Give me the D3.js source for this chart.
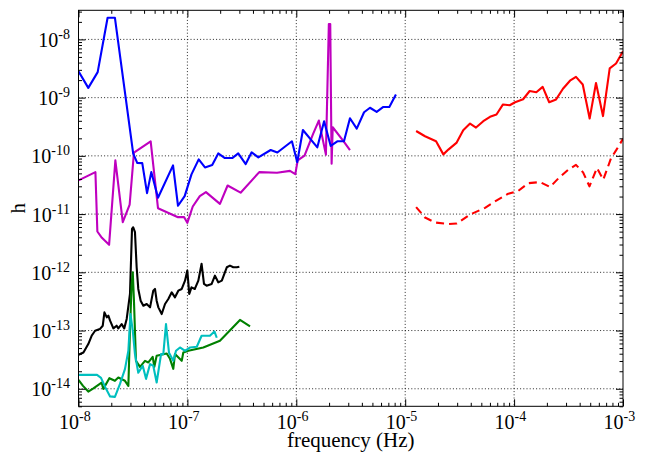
<!DOCTYPE html>
<html>
<head>
<meta charset="utf-8">
<script src="https://cdn.jsdelivr.net/npm/d3@7"></script>
<style>
  body { margin: 0; background: #fff; }
  svg { display: block; font-family: "Liberation Serif", "Times New Roman", serif; }
</style>
</head>
<body>
<svg id="chart" width="645" height="454"></svg>
<script>
// axis ranges and decade ticks
const xDomain = [1e-8, 1e-3];
const yDomain = [5e-15, 3.16e-8];
const xMajor = [1e-8, 1e-7, 1e-6, 1e-5, 1e-4, 1e-3];
const yMajor = [1e-14, 1e-13, 1e-12, 1e-11, 1e-10, 1e-9, 1e-8];

// blue
const blueF = [1.0e-8, 1.23e-8, 1.50e-8, 1.85e-8, 2.16e-8, 3.18e-8, 3.47e-8, 3.85e-8, 4.26e-8, 4.66e-8, 5.37e-8, 7.38e-8, 8.20e-8, 9.44e-8, 1.09e-7, 1.27e-7, 1.45e-7, 1.69e-7, 1.92e-7, 2.21e-7, 2.58e-7, 2.93e-7, 3.43e-7, 3.89e-7, 4.48e-7, 5.82e-7, 6.70e-7, 9.12e-7, 1.02e-6, 1.15e-6, 1.56e-6, 1.80e-6, 2.07e-6, 2.38e-6, 2.74e-6, 3.11e-6, 3.59e-6, 4.19e-6, 4.75e-6, 5.47e-6, 6.30e-6, 7.15e-6, 8.22e-6];
const blueH = [2.84e-9, 1.47e-9, 2.74e-9, 2.35e-8, 2.35e-8, 1.09e-10, 7.52e-11, 7.5e-11, 2.29e-11, 5.26e-11, 1.91e-11, 6.86e-11, 1.39e-11, 2.03e-11, 4.81e-11, 8.71e-11, 6.34e-11, 6.95e-11, 1.10e-10, 9.17e-11, 9.17e-11, 1.10e-10, 7.23e-11, 1.15e-10, 9.42e-11, 1.26e-10, 1.14e-10, 1.78e-10, 7.8e-11, 2.78e-10, 1.40e-10, 3.93e-10, 1.48e-10, 1.78e-10, 1.78e-10, 4.42e-10, 2.94e-10, 5.61e-10, 6.70e-10, 5.68e-10, 6.92e-10, 6.92e-10, 1.13e-9];

// magenta
const magentaF = [1.0e-8, 1.43e-8, 1.49e-8, 1.64e-8, 1.91e-8, 2.18e-8, 2.55e-8, 2.95e-8, 3.23e-8, 4.60e-8, 5.37e-8, 8.20e-8, 9.31e-8, 9.98e-8, 1.12e-7, 1.30e-7, 1.48e-7, 1.99e-7, 2.34e-7, 3.08e-7, 4.57e-7, 6.65e-7, 8.75e-7, 9.79e-7, 1.03e-6, 1.19e-6, 1.43e-6, 1.61e-6, 1.87e-6, 1.99e-6, 2.05e-6, 2.11e-6, 2.16e-6, 2.70e-6, 3.11e-6];
const magentaH = [3.79e-11, 5.26e-11, 5.02e-12, 3.91e-12, 2.96e-12, 8.37e-11, 7.26e-12, 1.46e-11, 1.14e-10, 1.78e-10, 1.26e-11, 8.85e-12, 8.9e-12, 7.08e-12, 1.35e-11, 2.03e-11, 2.38e-11, 1.50e-11, 3.10e-11, 2.33e-11, 5.26e-11, 5.14e-11, 5.52e-11, 4.86e-11, 8.37e-11, 1.01e-10, 2.41e-10, 4.04e-10, 1.05e-10, 1.83e-8, 1.83e-8, 7.34e-11, 3.10e-10, 1.81e-10, 1.26e-10];

// black
const blackF = [1.0e-8, 1.11e-8, 1.23e-8, 1.32e-8, 1.42e-8, 1.57e-8, 1.67e-8, 1.73e-8, 1.82e-8, 1.88e-8, 1.95e-8, 2.09e-8, 2.24e-8, 2.32e-8, 2.49e-8, 2.63e-8, 2.77e-8, 2.97e-8, 3.10e-8, 3.18e-8, 3.30e-8, 3.42e-8, 3.54e-8, 3.72e-8, 3.94e-8, 4.23e-8, 4.54e-8, 4.86e-8, 5.04e-8, 5.22e-8, 5.41e-8, 5.81e-8, 6.23e-8, 6.68e-8, 7.18e-8, 7.69e-8, 8.25e-8, 8.87e-8, 9.51e-8, 9.98e-8, 1.04e-7, 1.09e-7, 1.17e-7, 1.26e-7, 1.35e-7, 1.42e-7, 1.50e-7, 1.67e-7, 1.79e-7, 1.92e-7, 2.07e-7, 2.21e-7, 2.30e-7, 2.46e-7, 2.64e-7, 2.84e-7, 3.00e-7];
const blackH = [3.83e-14, 4.20e-14, 5.86e-14, 8.13e-14, 9.93e-14, 1.06e-13, 1.21e-13, 2.05e-13, 1.68e-13, 1.80e-13, 1.48e-13, 1.09e-13, 1.21e-13, 1.09e-13, 1.29e-13, 1.09e-13, 1.58e-13, 4.25e-13, 5.58e-12, 5.94e-12, 4.89e-12, 1.22e-12, 5.18e-13, 3.26e-13, 2.67e-13, 2.86e-13, 2.50e-13, 4.84e-13, 5.18e-13, 3.26e-13, 2.50e-13, 1.92e-13, 2.86e-13, 3.48e-13, 4.53e-13, 3.72e-13, 4.84e-13, 5.18e-13, 7.19e-13, 1.07e-12, 4.25e-13, 5.52e-13, 5.18e-13, 7.19e-13, 1.40e-12, 6.31e-13, 5.90e-13, 6.31e-13, 8.77e-13, 6.73e-13, 7.19e-13, 1.00e-12, 1.22e-12, 1.30e-12, 1.22e-12, 1.22e-12, 1.25e-12];

// green
const greenF = [1.0e-8, 1.10e-8, 1.23e-8, 1.37e-8, 1.63e-8, 1.69e-8, 1.92e-8, 2.16e-8, 2.32e-8, 2.67e-8, 2.87e-8, 2.97e-8, 3.07e-8, 3.15e-8, 3.23e-8, 3.37e-8, 3.67e-8, 4.08e-8, 4.38e-8, 4.80e-8, 4.97e-8, 5.22e-8, 6.46e-8, 6.92e-8, 7.42e-8, 7.69e-8, 8.87e-8, 9.17e-8, 1.02e-7, 1.40e-7, 1.99e-7, 3.04e-7, 3.76e-7];
const greenH = [1.42e-14, 1.12e-14, 8.95e-15, 1.02e-14, 1.28e-14, 9.96e-15, 1.52e-14, 1.37e-14, 1.56e-14, 1.37e-14, 1.12e-14, 9.93e-14, 5.90e-13, 1.00e-12, 3.26e-13, 3.02e-14, 2.38e-14, 3.02e-14, 2.83e-14, 3.54e-14, 2.38e-14, 3.68e-14, 4.04e-14, 3.27e-14, 2.20e-14, 3.94e-14, 3.02e-14, 4.20e-14, 4.49e-14, 5.12e-14, 6.67e-14, 1.52e-13, 1.18e-13];

// cyan
const cyanF = [1.0e-8, 1.48e-8, 1.61e-8, 1.79e-8, 1.95e-8, 2.16e-8, 2.40e-8, 2.67e-8, 2.87e-8, 3.00e-8, 3.15e-8, 3.30e-8, 3.54e-8, 3.89e-8, 4.17e-8, 4.54e-8, 4.86e-8, 5.22e-8, 5.73e-8, 6.01e-8, 6.36e-8, 6.78e-8, 7.42e-8, 7.86e-8, 8.55e-8, 9.51e-8, 1.06e-7, 1.22e-7, 1.35e-7, 1.61e-7, 1.77e-7, 1.86e-7];
const cyanH = [1.73e-14, 1.73e-14, 1.54e-14, 9.96e-15, 7.40e-15, 7.26e-15, 1.20e-14, 2.17e-14, 4.49e-14, 1.92e-13, 9.93e-14, 3.94e-14, 1.88e-14, 2.48e-14, 1.48e-14, 2.65e-14, 2.48e-14, 1.28e-14, 3.94e-14, 3.94e-14, 1.29e-13, 4.15e-14, 3.02e-14, 4.49e-14, 5.12e-14, 4.49e-14, 5.12e-14, 5.26e-14, 8.13e-14, 8.13e-14, 9.66e-14, 7.52e-14];

// red, solid
const redF = [1.26e-5, 1.52e-5, 1.92e-5, 2.24e-5, 2.49e-5, 2.97e-5, 3.41e-5, 3.94e-5, 4.47e-5, 5.21e-5, 6.01e-5, 6.89e-5, 7.91e-5, 9.12e-5, 1.02e-4, 1.21e-4, 1.39e-4, 1.60e-4, 1.83e-4, 2.10e-4, 2.43e-4, 2.81e-4, 3.26e-4, 3.70e-4, 4.27e-4, 4.94e-4, 5.65e-4, 6.55e-4, 7.55e-4, 8.63e-4, 1.0e-3];
const redH = [2.67e-10, 2.17e-10, 1.78e-10, 1.06e-10, 1.28e-10, 1.69e-10, 2.75e-10, 3.58e-10, 3.06e-10, 3.93e-10, 4.69e-10, 5.12e-10, 7.64e-10, 7.40e-10, 8.34e-10, 9.38e-10, 1.30e-9, 1.24e-9, 1.53e-9, 8.34e-10, 9.31e-10, 1.42e-9, 1.95e-9, 2.27e-9, 1.68e-9, 4.37e-10, 1.78e-9, 4.82e-10, 3.17e-9, 3.86e-9, 6.24e-9];

// red, dashed
const redDashF = [1.26e-5, 1.52e-5, 1.88e-5, 2.47e-5, 2.97e-5, 3.94e-5, 5.41e-5, 6.68e-5, 8.85e-5, 1.09e-4, 1.35e-4, 1.73e-4, 2.14e-4, 2.55e-4, 3.13e-4, 3.70e-4, 4.30e-4, 4.92e-4, 5.77e-4, 6.59e-4, 7.76e-4, 8.63e-4, 1.0e-3];
const redDashH = [1.32e-11, 8.73e-12, 7.16e-12, 6.76e-12, 6.89e-12, 9.84e-12, 1.28e-11, 1.65e-11, 2.24e-11, 2.50e-11, 3.40e-11, 3.54e-11, 2.92e-11, 4.10e-11, 5.74e-11, 7.00e-11, 5.20e-11, 2.99e-11, 6.21e-11, 3.89e-11, 9.06e-11, 1.24e-10, 1.96e-10];

const series = [
  {f: magentaF, h: magentaH, color: "#bf00bf"},
  {f: blueF, h: blueH, color: "#0000ff"},
  {f: blackF, h: blackH, color: "#000000"},
  {f: greenF, h: greenH, color: "#008000"},
  {f: cyanF, h: cyanH, color: "#00bfbf"},
  {f: redF, h: redH, color: "#ff0000"},
  {f: redDashF, h: redDashH, color: "#ff0000", dash: "8,5"}
];

const margin = {top: 10.3, right: 22, bottom: 47.7, left: 78.5};
const svg = d3.select("#chart"),
    width = +svg.attr("width") - margin.left - margin.right,
    height = +svg.attr("height") - margin.top - margin.bottom;

const x = d3.scaleLog().domain(xDomain).range([0, width]);
const y = d3.scaleLog().domain(yDomain).range([height, 0]);

// 2..9 times each power of ten inside the domain
function minorTicks(domain) {
  let out = [];
  for (let e = Math.floor(Math.log10(domain[0])); e <= Math.ceil(Math.log10(domain[1])); e++) {
    for (let m = 2; m <= 9; m++) {
      let v = m * Math.pow(10, e);
      if (v >= domain[0] * 0.999 && v <= domain[1] * 1.001) out.push(v);
    }
  }
  return out;
}

const g = svg.append("g").attr("transform", "translate(" + margin.left + "," + margin.top + ")");

svg.append("defs").append("clipPath").attr("id", "plotclip")
  .append("rect").attr("width", width).attr("height", height);

// dotted grid
const grid = g.append("g").attr("class", "grid")
    .attr("stroke", "#111").attr("stroke-width", 0.9).attr("stroke-dasharray", "1,2.2");
grid.selectAll(".gx").data(xMajor.slice(1, -1)).enter().append("line")
    .attr("x1", d => x(d)).attr("x2", d => x(d)).attr("y1", 0).attr("y2", height);
grid.selectAll(".gy").data(yMajor).enter().append("line")
    .attr("x1", 0).attr("x2", width).attr("y1", d => y(d)).attr("y2", d => y(d));

// curves
const line = d3.line().x(d => x(d[0])).y(d => y(d[1]));
const plot = g.append("g").attr("clip-path", "url(#plotclip)");
series.forEach(s => {
  plot.append("path")
    .datum(s.f.map((f, i) => [f, s.h[i]]))
    .attr("fill", "none")
    .attr("stroke", s.color)
    .attr("stroke-width", 2.1)
    .attr("stroke-linejoin", "round")
    .attr("stroke-dasharray", s.dash || null)
    .attr("d", line);
});

// inward ticks on all four sides
function tickAxis(axisFn, scale, values, size, transform) {
  g.append("g").attr("transform", transform)
    .call(axisFn(scale).tickValues(values).tickSize(-size).tickSizeOuter(0).tickFormat(""))
    .call(a => a.select(".domain").remove())
    .call(a => a.selectAll("line").attr("stroke", "#000").attr("stroke-width", 1));
}
const xMinor = minorTicks(xDomain), yMinor = minorTicks(yDomain);
tickAxis(d3.axisBottom, x, xMajor, 7, "translate(0," + height + ")");
tickAxis(d3.axisBottom, x, xMinor, 3.5, "translate(0," + height + ")");
tickAxis(d3.axisTop, x, xMajor, 7, "translate(0,0)");
tickAxis(d3.axisTop, x, xMinor, 3.5, "translate(0,0)");
tickAxis(d3.axisLeft, y, yMajor, 7, "translate(0,0)");
tickAxis(d3.axisLeft, y, yMinor, 3.5, "translate(0,0)");
tickAxis(d3.axisRight, y, yMajor, 7, "translate(" + width + ",0)");
tickAxis(d3.axisRight, y, yMinor, 3.5, "translate(" + width + ",0)");

// frame
g.append("rect").attr("width", width).attr("height", height)
  .attr("fill", "none").attr("stroke", "#000").attr("stroke-width", 1);

// tick labels as 10 with a superscript exponent
const exp = v => Math.round(Math.log10(v));
const xl = g.selectAll(".xlab").data(xMajor).enter().append("text")
    .attr("x", d => x(d) - 19.5).attr("y", height + 23)
    .attr("font-size", 20).attr("fill", "#000");
xl.append("tspan").text("10");
xl.append("tspan").attr("font-size", 14).attr("dy", -8).text(d => "-" + Math.abs(exp(d)));

const yl = g.selectAll(".ylab").data(yMajor).enter().append("text")
    .attr("x", -8.5).attr("y", d => y(d) + 7.5)
    .attr("text-anchor", "end").attr("font-size", 20).attr("fill", "#000");
yl.append("tspan").text("10");
yl.append("tspan").attr("font-size", 14).attr("dy", -8).text(d => "-" + Math.abs(exp(d)));

// axis titles
svg.append("text").attr("x", margin.left + width / 2).attr("y", 447)
  .attr("text-anchor", "middle").attr("font-size", 21).text("frequency (Hz)");
svg.append("text").attr("transform", "translate(25," + (margin.top + height / 2) + ") rotate(-90)")
  .attr("text-anchor", "middle").attr("font-size", 21).text("h");
</script>
</body>
</html>
